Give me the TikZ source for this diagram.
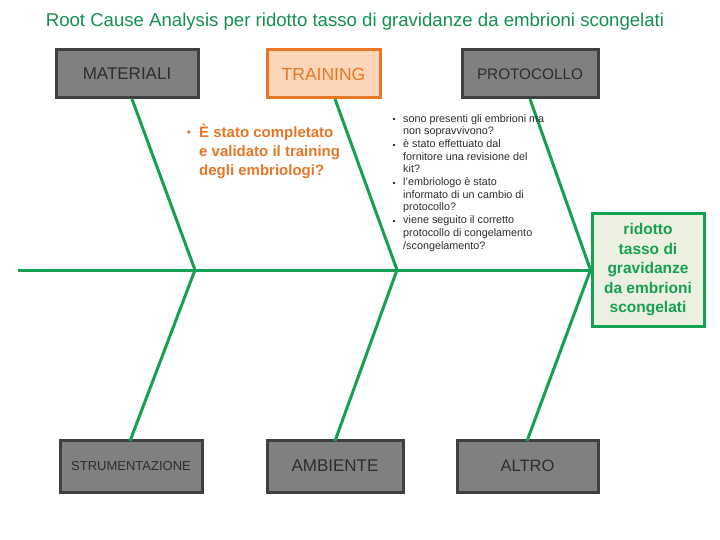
\documentclass[tikz,border=0pt]{standalone}
\usepackage{fontspec}
\setmainfont{Liberation Sans}
\definecolor{fgreen}{RGB}{22,160,82}
\definecolor{tgreen}{RGB}{20,145,80}
\definecolor{boxgray}{RGB}{128,128,128}
\definecolor{boxedge}{RGB}{64,64,64}
\definecolor{txtgray}{RGB}{45,45,45}
\definecolor{orng}{RGB}{232,118,38}
\definecolor{orngfill}{RGB}{252,214,182}
\definecolor{headfill}{RGB}{236,240,224}
\begin{document}
\begin{tikzpicture}[x=1pt,y=-1pt,
  catbox/.style={draw=boxedge,fill=boxgray,line width=3pt,text=txtgray,inner sep=0pt,align=center},
  bone/.style={draw=fgreen,line width=3pt},
  sqdot/.style={fill=txtgray,inner sep=0pt,minimum size=2.6pt},
  bulletlist/.style={inner sep=0pt,anchor=north west,align=left}]
\useasboundingbox (0,0) rectangle (720,540);
\fill[white] (0,0) rectangle (720,540);
% title
\node[text=tgreen,font=\fontsize{18.6}{22}\selectfont] (title) at (355,22) {Root Cause Analysis per ridotto tasso di gravidanze da embrioni scongelati};
% category boxes
\node[catbox,minimum width=142pt,minimum height=48pt,font=\fontsize{17}{20}\selectfont] (mat) at (127,74) {MATERIALI};
\node[catbox,draw=orng,fill=orngfill,text=orng,minimum width=113pt,minimum height=48pt,font=\fontsize{17.5}{20}\selectfont] (tra) at (323.5,74) {TRAINING};
\node[catbox,minimum width=136pt,minimum height=48pt,font=\fontsize{15.3}{18}\selectfont] (pro) at (530,74) {PROTOCOLLO};
\node[catbox,minimum width=142pt,minimum height=52pt,font=\fontsize{13}{15}\selectfont] (str) at (131,466) {STRUMENTAZIONE};
\node[catbox,minimum width=136pt,minimum height=52pt,font=\fontsize{17}{20}\selectfont] (amb) at (335,466) {AMBIENTE};
\node[catbox,minimum width=141pt,minimum height=52pt,font=\fontsize{16.5}{20}\selectfont] (alt) at (527.5,466) {ALTRO};
% head
\node[draw=fgreen,fill=headfill,line width=3pt,minimum width=112pt,minimum height=113pt,text=fgreen,align=center,inner sep=0pt,font=\bfseries\fontsize{15.5}{19.5}\selectfont] (head) at (648,270) {\rule{0pt}{2pt}ridotto\\tasso di\\gravidanze\\da embrioni\\scongelati};
% coordinates
\coordinate (tail) at (18,270);
\coordinate (j1) at (195,270);
\coordinate (j2) at (397,270);
\coordinate (m1) at (132,99);
\coordinate (m2) at (335,99);
\coordinate (m3) at (530,99);
\coordinate (b1) at (130,441);
\coordinate (b2) at (335,441);
\coordinate (b3) at (527,441);
% spine and bones
\draw[bone] (tail) -- (head.west);
\draw[bone] (m1) -- (j1);
\draw[bone] (b1) -- (j1);
\draw[bone] (m2) -- (j2);
\draw[bone] (b2) -- (j2);
\draw[bone] (m3) -- (head.west);
\draw[bone] (b3) -- (head.west);
% training question
\node[text=orng,font=\fontsize{8}{10}\selectfont] (tdot) at (189,133) {$\bullet$};
\node[bulletlist,text=orng,font=\bfseries\fontsize{15}{19}\selectfont] (tq) at (199,124.5) {È stato completato\\e validato il training\\degli embriologi?};
% protocollo questions
\node[bulletlist,text=txtgray,font=\fontsize{10.8}{12.7}\selectfont] (pq) at (403,114) {sono presenti gli embrioni ma\\non sopravvivono?\\è stato effettuato dal\\fornitore una revisione del\\kit?\\l'embriologo è stato\\informato di un cambio di\\protocollo?\\viene seguito il corretto\\protocollo di congelamento\\/scongelamento?};
\foreach \yy [count=\i] in {119,145,183,221}{
  \node[sqdot] (pd\i) at (394,\yy) {};
}
\end{tikzpicture}
\end{document}
